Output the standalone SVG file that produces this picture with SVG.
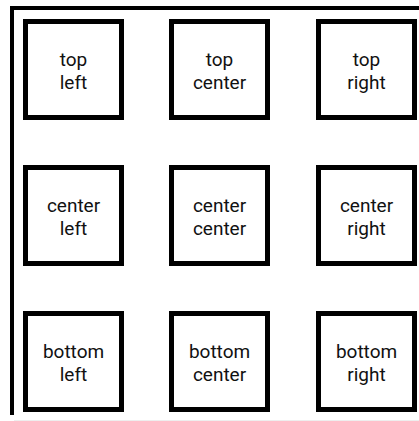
<svg xmlns="http://www.w3.org/2000/svg" width="419" height="421" viewBox="0 0 419 421">
<style>
.box{fill:#fff;stroke:#000;stroke-width:5}
.lbl{font-family:Roboto,"Liberation Sans",sans-serif;font-size:19px;fill:#111;text-anchor:middle}
</style>
<rect width="419" height="421" fill="#fff"/>
<g id="frame">
<rect x="10" y="6" width="409" height="4" fill="#000"/>
<rect x="10" y="6" width="4" height="409" fill="#000"/>
<rect x="14" y="420" width="405" height="1" fill="#eeeeee"/>
</g>
<g id="connectors"></g>
<g id="top-left"><rect class="box" x="25.5" y="21.5" width="96" height="96"/><text class="lbl" x="73.5" y="65.8">top</text><text class="lbl" x="73.5" y="88.5">left</text></g>
<g id="top-center"><rect class="box" x="171.5" y="21.5" width="96" height="96"/><text class="lbl" x="219.5" y="65.8">top</text><text class="lbl" x="219.5" y="88.5">center</text></g>
<g id="top-right"><rect class="box" x="318.5" y="21.5" width="96" height="96"/><text class="lbl" x="366.5" y="65.8">top</text><text class="lbl" x="366.5" y="88.5">right</text></g>
<g id="center-left"><rect class="box" x="25.5" y="167.5" width="96" height="96"/><text class="lbl" x="73.5" y="211.5">center</text><text class="lbl" x="73.5" y="234.5">left</text></g>
<g id="center-center"><rect class="box" x="171.5" y="167.5" width="96" height="96"/><text class="lbl" x="219.5" y="211.5">center</text><text class="lbl" x="219.5" y="234.5">center</text></g>
<g id="center-right"><rect class="box" x="318.5" y="167.5" width="96" height="96"/><text class="lbl" x="366.5" y="211.5">center</text><text class="lbl" x="366.5" y="234.5">right</text></g>
<g id="bottom-left"><rect class="box" x="25.5" y="313.5" width="96" height="96"/><text class="lbl" x="73.5" y="357.5">bottom</text><text class="lbl" x="73.5" y="380.5">left</text></g>
<g id="bottom-center"><rect class="box" x="171.5" y="313.5" width="96" height="96"/><text class="lbl" x="219.5" y="357.5">bottom</text><text class="lbl" x="219.5" y="380.5">center</text></g>
<g id="bottom-right"><rect class="box" x="318.5" y="313.5" width="96" height="96"/><text class="lbl" x="366.5" y="357.5">bottom</text><text class="lbl" x="366.5" y="380.5">right</text></g>
</svg>
